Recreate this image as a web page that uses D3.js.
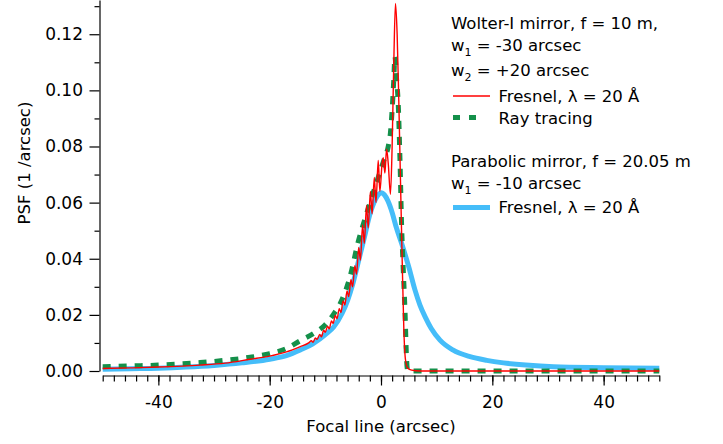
<!DOCTYPE html>
<html>
<head>
<meta charset="utf-8">
<script src="https://cdn.jsdelivr.net/npm/d3@7"></script>
<style>
  body { margin: 0; background: #fff; }
  svg { display: block; font-family: "DejaVu Sans", sans-serif; }
  .axis path, .axis line { stroke: #000; stroke-width: 1.2; }
  .axis text { font-size: 17px; fill: #000; }
  .legend text { font-size: 16.5px; fill: #000; }
</style>
</head>
<body>
<svg id="chart" width="723" height="444"></svg>
<script>
// values: [focal line (arcsec), PSF (1/arcsec)]
var parabolicFresnel = [
  [-50, 0.0006], [-45, 0.0008], [-40, 0.0010], [-35, 0.0014], [-30, 0.0020],
  [-25, 0.0029], [-20, 0.0042], [-17, 0.0055], [-14.5, 0.0075], [-12, 0.0100],
  [-10, 0.0130], [-8.5, 0.0157], [-7, 0.0205], [-6, 0.0252], [-5, 0.0315],
  [-4, 0.0395], [-3, 0.0475], [-2, 0.0558], [-1, 0.0612], [-0.4, 0.0630],
  [0.1, 0.0635], [0.6, 0.0628], [1.2, 0.0608], [2, 0.0565], [2.7, 0.0515],
  [3.7, 0.0455], [5, 0.0370], [6.1, 0.0289], [7, 0.0235], [8, 0.0190],
  [9, 0.0152], [10.6, 0.0110], [12.9, 0.0075], [16, 0.0051], [19, 0.0038],
  [22, 0.0029], [26, 0.0021], [31, 0.0015], [40, 0.0012], [50, 0.0010]
];

var rayTracing = [
  [-50, 0.0015], [-45, 0.0018], [-40, 0.0021], [-32.5, 0.0030], [-28, 0.0038],
  [-23.5, 0.0049], [-20, 0.0062], [-17, 0.0080], [-14.5, 0.0108], [-12, 0.0135],
  [-10, 0.0165], [-8.6, 0.0200], [-7.1, 0.0250], [-5.6, 0.0333], [-4.1, 0.0460],
  [-2.6, 0.0560], [-1, 0.0660], [0.5, 0.0750], [1.3, 0.0800], [1.7, 0.0850],
  [2.0, 0.0930], [2.3, 0.1040], [2.5, 0.1120], [2.8, 0.1040], [3.1, 0.0950],
  [3.4, 0.0760], [3.7, 0.0520], [4.0, 0.0360], [4.3, 0.0220], [4.6, 0.0040],
  [4.8, 0.0000], [10, 0.0000], [20, 0.0000], [30, 0.0000], [40, 0.0000], [50, 0.0000]
];

var wolterFresnel = [
  [-50, 0.0009], [-45, 0.0011], [-40, 0.0014], [-32.5, 0.0021], [-28, 0.0028],
  [-23.5, 0.0042], [-20, 0.0053], [-17, 0.0068], [-14.5, 0.0087], [-13, 0.0100],
  [-12.5, 0.0108], [-12.2, 0.0102], [-11.8, 0.0118], [-11.5, 0.0112], [-11, 0.0130],
  [-10.7, 0.0122], [-10.3, 0.0145], [-10, 0.0138], [-9.6, 0.0160], [-9.3, 0.0150],
  [-8.9, 0.0178], [-8.6, 0.0170], [-8.2, 0.0198], [-7.9, 0.0186], [-7.5, 0.0222],
  [-7.2, 0.0208], [-6.8, 0.0250], [-6.5, 0.0235], [-6.1, 0.0285], [-5.8, 0.0265],
  [-5.4, 0.0325], [-5.1, 0.0300], [-4.7, 0.0375], [-4.4, 0.0345], [-4.0, 0.0440],
  [-3.7, 0.0395], [-3.3, 0.0520], [-3.0, 0.0455], [-2.6, 0.0590], [-2.3, 0.0510],
  [-1.9, 0.0640], [-1.6, 0.0560], [-1.2, 0.0690], [-0.9, 0.0600], [-0.5, 0.0750],
  [-0.2, 0.0640], [0.2, 0.0740], [0.4, 0.0760], [0.7, 0.0705], [1.0, 0.0790],
  [1.3, 0.0740], [1.7, 0.0630], [2.0, 0.0800], [2.3, 0.1100], [2.6, 0.1310],
  [2.9, 0.1200], [3.2, 0.0960], [3.5, 0.0680], [3.8, 0.0400], [4.1, 0.0150],
  [4.4, 0.0040], [4.8, 0.0010], [5.5, 0.0003], [7, 0.0000], [20, 0.0000],
  [35, 0.0000], [50, 0.0000]
];

var xMajorTicks = [-40, -20, 0, 20, 40];
var xMinorTicks = d3.range(-50, 51, 2);
var yMajorTicks = [0, 0.02, 0.04, 0.06, 0.08, 0.10, 0.12];
var yMinorTicks = [0.01, 0.03, 0.05, 0.07, 0.09, 0.11, 0.13];

var wolterLines = ["Wolter-I mirror, f = 10 m,", ["w", "1", " = -30 arcsec"], ["w", "2", " = +20 arcsec"]];
var parabolicLines = ["Parabolic mirror, f = 20.05 m", ["w", "1", " = -10 arcsec"]];

var RED = "#ff0000", GREEN = "#14904a", BLUE = "#45bdf9";

var svg = d3.select("#chart");

var x = d3.scaleLinear().domain([-50, 50]).range([102.7, 659.3]);
var y = d3.scaleLinear().domain([0, 0.1322]).range([371, 0]);

// x axis sits a little below the zero line
var xAxisY = 375.5;
svg.append("g")
  .attr("class", "axis")
  .attr("transform", "translate(0," + xAxisY + ")")
  .call(d3.axisBottom(x).tickValues(xMinorTicks).tickSize(6).tickSizeOuter(0).tickFormat(""));
svg.append("g")
  .attr("class", "axis")
  .attr("transform", "translate(0," + xAxisY + ")")
  .call(d3.axisBottom(x).tickValues(xMajorTicks).tickSize(10).tickSizeOuter(0).tickPadding(10.5)
    .tickFormat(d => String(d)))   // plain hyphen, like the original
  .call(g => g.select(".domain").remove());

var yAxisX = 99.5;
svg.append("g")
  .attr("class", "axis")
  .attr("transform", "translate(" + yAxisX + ",0)")
  .call(d3.axisLeft(y).tickValues(yMinorTicks).tickSize(5).tickSizeOuter(0).tickFormat(""));
svg.append("g")
  .attr("class", "axis")
  .attr("transform", "translate(" + yAxisX + ",0)")
  .call(d3.axisLeft(y).tickValues(yMajorTicks).tickSize(10).tickSizeOuter(0).tickPadding(6.5)
    .tickFormat(d => d.toFixed(2)))
  .call(g => g.select(".domain").remove());

svg.selectAll(".axis text").attr("font-family", "DejaVu Sans");

// axis titles
svg.append("text")
  .attr("x", 381).attr("y", 432)
  .attr("text-anchor", "middle")
  .style("font-size", "16.5px")
  .text("Focal line (arcsec)");

svg.append("text")
  .attr("transform", "translate(30,163) rotate(-90)")
  .attr("text-anchor", "middle")
  .style("font-size", "16.5px")
  .text("PSF (1 /arcsec)");

// curves
var line = d3.line()
  .x(d => x(d[0]))
  .y(d => y(d[1]))
  .curve(d3.curveMonotoneX);

var plot = svg.append("g");

plot.append("path")
  .datum(parabolicFresnel)
  .attr("d", line)
  .attr("fill", "none")
  .attr("stroke", BLUE)
  .attr("stroke-width", 5);

plot.append("path")
  .datum(rayTracing)
  .attr("d", line)
  .attr("fill", "none")
  .attr("stroke", GREEN)
  .attr("stroke-width", 5)
  .attr("stroke-dasharray", "8,8");

plot.append("path")
  .datum(wolterFresnel)
  .attr("d", line)
  .attr("fill", "none")
  .attr("stroke", RED)
  .attr("stroke-width", 1.4);

// legend
var legend = svg.append("g").attr("class", "legend");

var addLine = function(parts, lx, ly) {
  var t = legend.append("text").attr("x", lx).attr("y", ly);
  if (typeof parts === "string") {
    t.text(parts);
  } else {
    t.append("tspan").text(parts[0]);
    t.append("tspan").attr("dy", 5).style("font-size", "11px").text(parts[1]);
    t.append("tspan").attr("dy", -5).text(parts[2]);
  }
};

addLine(wolterLines[0], 451, 29.3);
addLine(wolterLines[1], 451, 50.5);
addLine(wolterLines[2], 451, 76);
addLine("Fresnel, \u03bb = 20 \u00c5", 498.5, 101.5);
addLine("Ray tracing", 498.5, 123.5);
addLine(parabolicLines[0], 451, 166.7);
addLine(parabolicLines[1], 451, 188.5);
addLine("Fresnel, \u03bb = 20 \u00c5", 498.5, 213.3);

legend.append("line")
  .attr("x1", 453).attr("x2", 490).attr("y1", 96).attr("y2", 96)
  .attr("stroke", RED).attr("stroke-width", 1.4);
legend.append("line")
  .attr("x1", 453).attr("x2", 476).attr("y1", 117.5).attr("y2", 117.5)
  .attr("stroke", GREEN).attr("stroke-width", 5).attr("stroke-dasharray", "7,9");
legend.append("line")
  .attr("x1", 453).attr("x2", 490).attr("y1", 207.5).attr("y2", 207.5)
  .attr("stroke", BLUE).attr("stroke-width", 5);
</script>
</body>
</html>
